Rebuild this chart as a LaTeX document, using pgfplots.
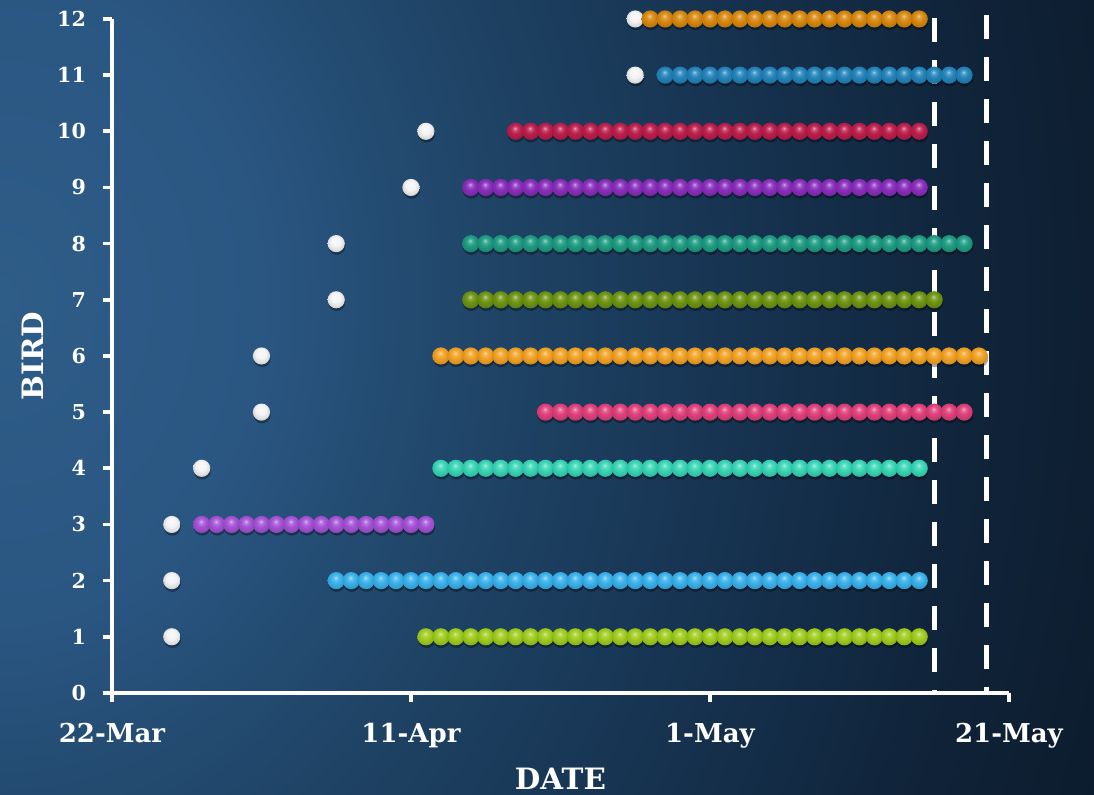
\documentclass[border=0pt]{standalone}
\usepackage{fontspec}
\setmainfont{DejaVu Serif}
\usepackage{pgfplots}
\pgfplotsset{compat=1.18}
\usetikzlibrary{backgrounds}

% slide background
\definecolor{bgA}{HTML}{2E5D88}
\definecolor{bgB}{HTML}{2A5682}
\definecolor{bgC}{HTML}{1F4466}
\definecolor{bgD}{HTML}{173452}
\definecolor{bgE}{HTML}{0F2237}
\definecolor{bgF}{HTML}{0A1727}
\pgfdeclareradialshading{slidebg}{\pgfpointorigin}{%
  color(0bp)=(bgA); color(5bp)=(bgB); color(9.5bp)=(bgC);
  color(14bp)=(bgD); color(19.5bp)=(bgE); color(25bp)=(bgF); color(50bp)=(bgF)}

% glossy bead marker with a soft shadow, tinted by beadcol
\colorlet{beadcol}{white}
\pgfdeclareradialshading[beadcol]{bead}{\pgfpoint{-2bp}{9bp}}{%
  color(0bp)=(beadcol!40!white); color(6bp)=(beadcol!80!white);
  color(14bp)=(beadcol); color(26bp)=(beadcol!88!black);
  color(34bp)=(beadcol!70!black); color(50bp)=(beadcol!70!black)}
\pgfdeclareplotmark{bead}{%
  \begin{pgfscope}
    \pgfsetfillopacity{0.35}\pgfsetfillcolor{black}%
    \pgfpathcircle{\pgfpoint{0.3pt}{-1.3pt}}{\pgfplotmarksize}%
    \pgfusepath{fill}%
  \end{pgfscope}%
  \pgfpathcircle{\pgfpointorigin}{\pgfplotmarksize}%
  \pgfshadepath{bead}{0}\pgfusepath{discard}}

% one colour per bird
\definecolor{bird1}{HTML}{A0CC1E}
\definecolor{bird2}{HTML}{3AB2EC}
\definecolor{bird3}{HTML}{A452D6}
\definecolor{bird4}{HTML}{38D6B6}
\definecolor{bird5}{HTML}{E0407A}
\definecolor{bird6}{HTML}{F2A224}
\definecolor{bird7}{HTML}{6E9412}
\definecolor{bird8}{HTML}{1E9C82}
\definecolor{bird9}{HTML}{8A2EBC}
\definecolor{bird10}{HTML}{BC1E4C}
\definecolor{bird11}{HTML}{2384BA}
\definecolor{bird12}{HTML}{D8880E}
\definecolor{spot}{HTML}{F4F4F4}

\pgfplotsset{
  beads/.style={only marks, mark=bead, mark size=4.3pt,
    /utils/exec={\colorlet{beadcol}{#1}}},
}

\begin{document}
\begin{tikzpicture}
\begin{axis}[
  scale only axis,
  width=448.5pt, height=337pt,
  xmin=0, xmax=60, ymin=0, ymax=12,
  clip=false,
  axis lines=left,
  axis line style={-, white, line width=2pt},
  tick align=outside,
  major tick length=4.5pt,
  tick style={white, line width=1.8pt},
  xtick={0,20,40,60},
  xticklabels={22-Mar,11-Apr,1-May,21-May},
  ytick={0,1,...,12},
  /pgf/number format/assume math mode=true,
  xticklabel style={font=\fontsize{13}{15}\selectfont\bfseries, text=white, yshift=-7pt},
  yticklabel style={font=\fontsize{10.3}{12}\selectfont\bfseries, text=white, xshift=-5pt},
  xlabel={DATE}, ylabel={BIRD},
  xlabel style={at={(axis description cs:0.5,-0.128)}, anchor=center,
    font=\fontsize{14.7}{17}\selectfont\bfseries, text=white},
  ylabel style={at={(axis description cs:-0.088,0.5)}, anchor=center,
    font=\fontsize{14.7}{17}\selectfont\bfseries, text=white},
]
% frame of the slide behind the chart
\coordinate (bgSW) at (axis cs:-7.49,-1.816);
\coordinate (bgNE) at (axis cs:65.69,12.338);
\coordinate (bgO)  at (axis cs:-7.49,7.0);

% first sighting of each bird
\addplot[beads=spot] coordinates {
  (4,1) (4,2) (4,3) (6,4) (10,5) (10,6) (15,7) (15,8) (20,9) (21,10) (35,11) (35,12)};

% daily presence of each bird
\addplot[beads=bird1] coordinates {
  (21,1)(22,1)(23,1)(24,1)(25,1)(26,1)(27,1)(28,1)(29,1)(30,1)(31,1)(32,1)
  (33,1)(34,1)(35,1)(36,1)(37,1)(38,1)(39,1)(40,1)(41,1)(42,1)(43,1)(44,1)
  (45,1)(46,1)(47,1)(48,1)(49,1)(50,1)(51,1)(52,1)(53,1)(54,1)};
\addplot[beads=bird2] coordinates {
  (15,2)(16,2)(17,2)(18,2)(19,2)(20,2)(21,2)(22,2)(23,2)(24,2)(25,2)(26,2)
  (27,2)(28,2)(29,2)(30,2)(31,2)(32,2)(33,2)(34,2)(35,2)(36,2)(37,2)(38,2)
  (39,2)(40,2)(41,2)(42,2)(43,2)(44,2)(45,2)(46,2)(47,2)(48,2)(49,2)(50,2)
  (51,2)(52,2)(53,2)(54,2)};
\addplot[beads=bird3] coordinates {
  (6,3)(7,3)(8,3)(9,3)(10,3)(11,3)(12,3)(13,3)(14,3)(15,3)(16,3)(17,3)
  (18,3)(19,3)(20,3)(21,3)};
\addplot[beads=bird4] coordinates {
  (22,4)(23,4)(24,4)(25,4)(26,4)(27,4)(28,4)(29,4)(30,4)(31,4)(32,4)(33,4)
  (34,4)(35,4)(36,4)(37,4)(38,4)(39,4)(40,4)(41,4)(42,4)(43,4)(44,4)(45,4)
  (46,4)(47,4)(48,4)(49,4)(50,4)(51,4)(52,4)(53,4)(54,4)};
\addplot[beads=bird5] coordinates {
  (29,5)(30,5)(31,5)(32,5)(33,5)(34,5)(35,5)(36,5)(37,5)(38,5)(39,5)(40,5)
  (41,5)(42,5)(43,5)(44,5)(45,5)(46,5)(47,5)(48,5)(49,5)(50,5)(51,5)(52,5)
  (53,5)(54,5)(55,5)(56,5)(57,5)};
\addplot[beads=bird6] coordinates {
  (22,6)(23,6)(24,6)(25,6)(26,6)(27,6)(28,6)(29,6)(30,6)(31,6)(32,6)(33,6)
  (34,6)(35,6)(36,6)(37,6)(38,6)(39,6)(40,6)(41,6)(42,6)(43,6)(44,6)(45,6)
  (46,6)(47,6)(48,6)(49,6)(50,6)(51,6)(52,6)(53,6)(54,6)(55,6)(56,6)(57,6)
  (58,6)};
\addplot[beads=bird7] coordinates {
  (24,7)(25,7)(26,7)(27,7)(28,7)(29,7)(30,7)(31,7)(32,7)(33,7)(34,7)(35,7)
  (36,7)(37,7)(38,7)(39,7)(40,7)(41,7)(42,7)(43,7)(44,7)(45,7)(46,7)(47,7)
  (48,7)(49,7)(50,7)(51,7)(52,7)(53,7)(54,7)(55,7)};
\addplot[beads=bird8] coordinates {
  (24,8)(25,8)(26,8)(27,8)(28,8)(29,8)(30,8)(31,8)(32,8)(33,8)(34,8)(35,8)
  (36,8)(37,8)(38,8)(39,8)(40,8)(41,8)(42,8)(43,8)(44,8)(45,8)(46,8)(47,8)
  (48,8)(49,8)(50,8)(51,8)(52,8)(53,8)(54,8)(55,8)(56,8)(57,8)};
\addplot[beads=bird9] coordinates {
  (24,9)(25,9)(26,9)(27,9)(28,9)(29,9)(30,9)(31,9)(32,9)(33,9)(34,9)(35,9)
  (36,9)(37,9)(38,9)(39,9)(40,9)(41,9)(42,9)(43,9)(44,9)(45,9)(46,9)(47,9)
  (48,9)(49,9)(50,9)(51,9)(52,9)(53,9)(54,9)};
\addplot[beads=bird10] coordinates {
  (27,10)(28,10)(29,10)(30,10)(31,10)(32,10)(33,10)(34,10)(35,10)(36,10)
  (37,10)(38,10)(39,10)(40,10)(41,10)(42,10)(43,10)(44,10)(45,10)(46,10)
  (47,10)(48,10)(49,10)(50,10)(51,10)(52,10)(53,10)(54,10)};
\addplot[beads=bird11] coordinates {
  (37,11)(38,11)(39,11)(40,11)(41,11)(42,11)(43,11)(44,11)(45,11)(46,11)
  (47,11)(48,11)(49,11)(50,11)(51,11)(52,11)(53,11)(54,11)(55,11)(56,11)
  (57,11)};
\addplot[beads=bird12] coordinates {
  (36,12)(37,12)(38,12)(39,12)(40,12)(41,12)(42,12)(43,12)(44,12)(45,12)
  (46,12)(47,12)(48,12)(49,12)(50,12)(51,12)(52,12)(53,12)(54,12)};

% reference dates
\addplot[white, line width=2.5pt, dash pattern=on 12pt off 9pt] coordinates {(55,12.018) (55,0)};
\addplot[white, line width=2.5pt, dash pattern=on 12pt off 9pt] coordinates {(58.5,12.07) (58.5,0)};
\end{axis}

\begin{scope}[on background layer]
  \clip (bgSW) rectangle (bgNE);
  \shade[shading=slidebg] (bgO) ellipse (650pt and 800pt);
\end{scope}
\pgfresetboundingbox
\path[use as bounding box] (bgSW) rectangle (bgNE);
\end{tikzpicture}
\end{document}
